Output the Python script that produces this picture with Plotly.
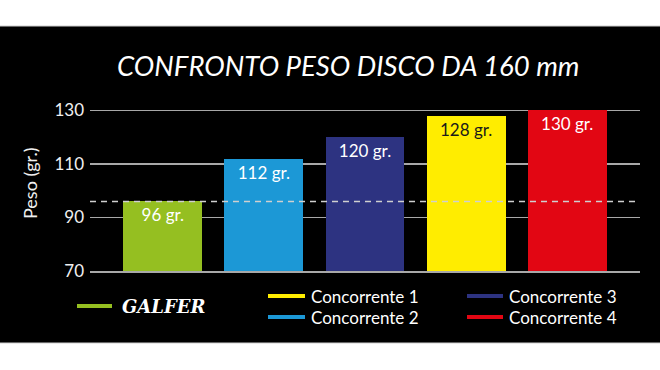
import plotly.graph_objects as go

# ---- data ----
categories = ["GALFER", "Concorrente 1", "Concorrente 2", "Concorrente 3", "Concorrente 4"]
bar_order = ["GALFER", "Concorrente 2", "Concorrente 3", "Concorrente 1", "Concorrente 4"]
weights = [96, 112, 120, 128, 130]
bar_labels = ["96 gr.", "112 gr.", "120 gr.", "128 gr.", "130 gr."]
y_ticks = [70, 90, 110, 130]
colors = {
    "GALFER": "#95bf21",
    "Concorrente 1": "#ffed00",
    "Concorrente 2": "#1c98d6",
    "Concorrente 3": "#2d3381",
    "Concorrente 4": "#e20613",
}
title_text = "CONFRONTO PESO DISCO DA 160 mm"
y_title = "Peso (gr.)"

W, H = 660, 370
ML, MR, MT, MB = 90, 20, 109, 99
PW, PH = W - ML - MR, H - MT - MB


def px(x):
    return (x - ML) / PW


def py(y):
    return (H - MB - y) / PH


fig = go.Figure()
fig.add_trace(go.Bar(
    x=list(range(len(bar_order))),
    y=weights,
    width=0.78,
    marker=dict(color=[colors[c] for c in bar_order], line=dict(width=0)),
    text=bar_labels,
    textposition="inside",
    insidetextanchor="end",
    textangle=0,
    textfont=dict(family="Lato", size=17,
                  color=["#ffffff", "#ffffff", "#ffffff", "#1a1a1a", "#ffffff"]),
    hoverinfo="skip",
    showlegend=False,
))

shapes = [
    # white bands top / bottom
    dict(type="rect", xref="paper", yref="paper", x0=px(-5), x1=px(W + 5), y0=py(26), y1=py(-5),
         fillcolor="white", line=dict(width=0), layer="above"),
    dict(type="rect", xref="paper", yref="paper", x0=px(-5), x1=px(W + 5), y0=py(H + 5), y1=py(343),
         fillcolor="white", line=dict(width=0), layer="above"),
    dict(type="line", xref="paper", yref="paper", x0=px(-5), x1=px(W + 5), y0=py(26), y1=py(26),
         line=dict(color="#cfcfcf", width=1), layer="above"),
    dict(type="line", xref="paper", yref="paper", x0=px(-5), x1=px(W + 5), y0=py(343), y1=py(343),
         line=dict(color="#cfcfcf", width=1), layer="above"),
    # dashed reference at GALFER weight
    dict(type="line", xref="paper", yref="y", x0=0, x1=1, y0=weights[0], y1=weights[0],
         line=dict(color="#d0d0d0", width=1.5, dash="6px,5px"), layer="above"),
]

# legend (custom layout)
legend_pos = {
    "GALFER": (77, 112, 306),
    "Concorrente 1": (268, 305, 296),
    "Concorrente 2": (268, 305, 317),
    "Concorrente 3": (467, 503, 296),
    "Concorrente 4": (467, 503, 317),
}
annotations = []
for name in categories:
    x0, x1, yy = legend_pos[name]
    shapes.append(dict(type="line", xref="paper", yref="paper", x0=px(x0), x1=px(x1),
                       y0=py(yy), y1=py(yy), line=dict(color=colors[name], width=4)))
    if name == "GALFER":
        font = dict(family="DejaVu Serif", size=18, color="white", weight="bold", style="italic")
        tx = x1 + 8
    else:
        font = dict(family="Lato", size=17, color="white")
        tx = x1 + 4
    annotations.append(dict(text=name, xref="paper", yref="paper", x=px(tx), y=py(yy),
                            xanchor="left", yanchor="middle", showarrow=False, font=font))

annotations.append(dict(text=title_text, xref="paper", yref="paper", x=px(348), y=py(66),
                        xanchor="center", yanchor="middle", showarrow=False,
                        font=dict(family="Lato", size=27.5, color="white", style="italic")))
annotations.append(dict(text=y_title, xref="paper", yref="paper", x=px(30), y=py(183),
                        xanchor="center", yanchor="middle", showarrow=False, textangle=-90,
                        font=dict(family="Lato", size=18, color="#f0f0f0")))

fig.update_layout(
    width=W, height=H,
    margin=dict(l=ML, r=MR, t=MT, b=MB, pad=0),
    paper_bgcolor="black",
    plot_bgcolor="black",
    shapes=shapes,
    annotations=annotations,
    showlegend=False,
    bargap=0,
    xaxis=dict(range=[-0.72, len(bar_order) - 1 + 0.72], showticklabels=False, showgrid=False,
               zeroline=False, showline=True, linecolor="#a8a8a8", linewidth=1.5, ticks=""),
    yaxis=dict(range=[70, 130.5], tickvals=y_ticks, showgrid=True, gridcolor="#a8a8a8",
               gridwidth=1.5, zeroline=False, showline=False, ticks="",
               ticklabelstandoff=5,
               tickfont=dict(family="Lato", size=17, color="#f0f0f0")),
    uniformtext=dict(mode=False),
)

fig.write_html(
    "out.html",
    config={"displayModeBar": False, "staticPlot": True},
    post_script="document.body.style.margin='0';document.body.style.overflow='hidden';",
)
